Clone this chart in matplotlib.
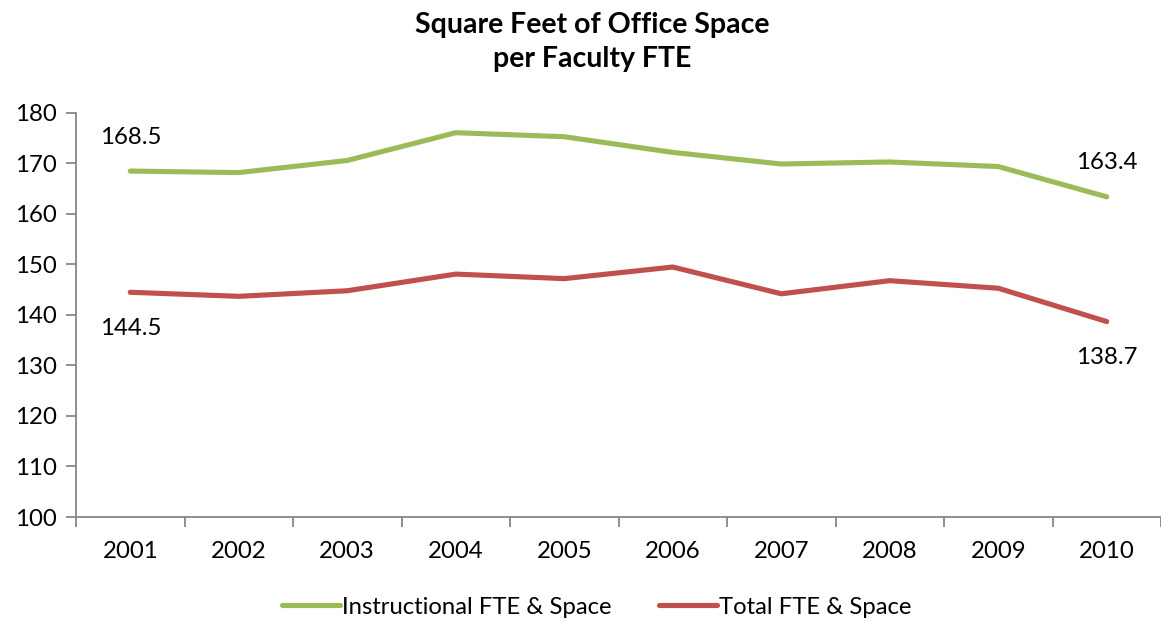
import matplotlib
matplotlib.use("Agg")
import matplotlib.pyplot as plt
import numpy as np

years = ["2001", "2002", "2003", "2004", "2005", "2006", "2007", "2008", "2009", "2010"]
instructional = [168.5, 168.2, 170.6, 176.1, 175.3, 172.2, 169.9, 170.3, 169.4, 163.4]
total = [144.5, 143.7, 144.8, 148.1, 147.2, 149.5, 144.2, 146.8, 145.3, 138.7]
series_names = ["Instructional FTE & Space", "Total FTE & Space"]
title = "Square Feet of Office Space\nper Faculty FTE"

plt.rcParams['font.family'] = ['Lato', 'DejaVu Sans']

W, H = 1161, 621
fig = plt.figure(figsize=(W / 100, H / 100), dpi=100)
ax = fig.add_axes([76 / W, 1 - 517 / H, (W - 76) / W, (517 - 113) / H])

green = "#9BBB59"
red = "#C0504D"
x = np.arange(len(years))
l1, = ax.plot(x, instructional, color=green, lw=3.7, solid_capstyle='round', solid_joinstyle='round', label=series_names[0])
l2, = ax.plot(x, total, color=red, lw=3.7, solid_capstyle='round', solid_joinstyle='round', label=series_names[1])

ax.set_xlim(-0.5, len(years) - 0.5)
ax.set_ylim(100, 180)
ax.set_yticks(np.arange(100, 181, 10))
ax.set_xticks(x)
ax.set_xticklabels(years)
ax.set_xticks(np.arange(-0.5, len(years), 1), minor=True)
ax.tick_params(axis='x', which='major', length=0, pad=17, labelsize=17.3)
ax.tick_params(axis='x', which='minor', length=7, width=1.3, color="#868686", direction='out')
ax.tick_params(axis='y', which='major', length=7, width=1.3, color="#868686", direction='out', pad=7, labelsize=17.3)

for s in ['top', 'right']:
    ax.spines[s].set_visible(False)
for s in ['left', 'bottom']:
    ax.spines[s].set_color("#868686")
    ax.spines[s].set_linewidth(1.3)

# data labels at first and last points
for series, off in [(instructional, 34), (total, -36)]:
    for i in [0, len(years) - 1]:
        ax.annotate(f"{series[i]:.1f}", (x[i], series[i]), xytext=(0, off),
                    textcoords='offset pixels', ha='center', va='center', fontsize=17.3)

fig.text(592 / W, 1 - 42 / H, title, ha='center', va='center', fontsize=20.5,
         fontweight='bold', linespacing=1.4)

fig.legend(handles=[l1, l2], loc='center', bbox_to_anchor=(597 / W, 1 - 607 / H), ncol=2,
           frameon=False, fontsize=17.2, handlelength=2.4, handletextpad=0.1, columnspacing=2.0)

fig.savefig("out.png", dpi=100)
